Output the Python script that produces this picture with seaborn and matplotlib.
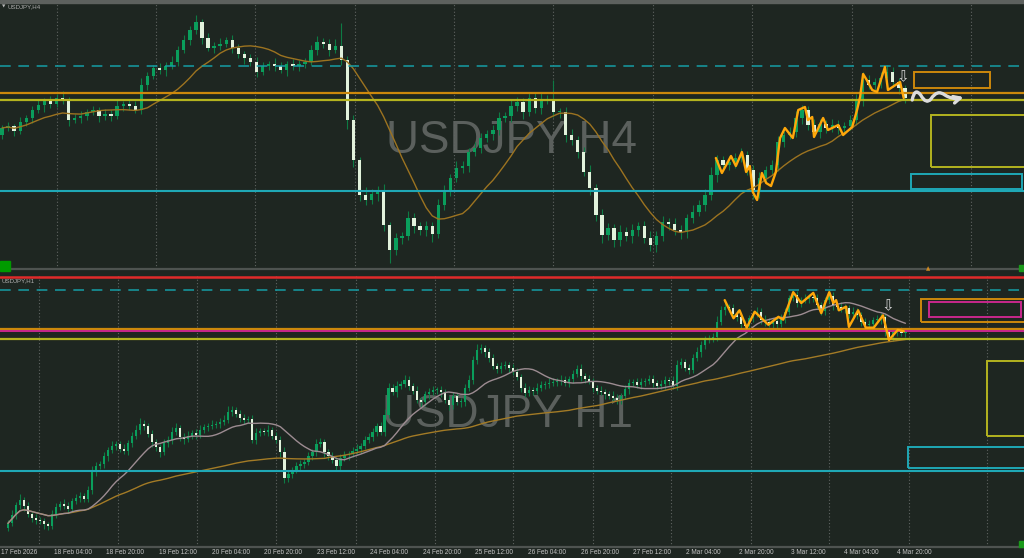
import numpy as np
import pandas as pd
import matplotlib
matplotlib.use("Agg")
import matplotlib.pyplot as plt
import matplotlib.transforms as mtransforms
import seaborn as sns
from matplotlib.patches import Rectangle, FancyArrowPatch
from matplotlib.path import Path

# ---------------- data: USDJPY H4 (top) ----------------
h4_first_open = 155.70
h4_close = [
    155.84, 155.88, 155.78, 155.96, 156.04, 156.20, 156.30, 156.38, 156.32, 156.44,
    156.40, 156.00, 156.04, 156.08, 156.16, 156.20, 156.08, 156.12, 156.08, 156.28,
    156.32, 156.28, 156.20, 156.70, 156.88, 157.04, 157.00, 157.08, 157.16, 157.40,
    157.60, 157.80, 157.96, 157.64, 157.44, 157.48, 157.52, 157.60, 157.44, 157.32,
    157.24, 157.16, 156.96, 157.08, 157.12, 157.08, 157.00, 157.12, 157.08, 157.12,
    157.16, 157.40, 157.56, 157.52, 157.40, 157.48, 157.20, 156.00, 155.20, 154.50,
    154.40, 154.52, 154.60, 153.90, 153.40, 153.64, 153.68, 154.04, 153.88, 153.80,
    153.88, 153.72, 154.30, 154.60, 154.84, 155.04, 155.08, 155.36, 155.44, 155.64,
    155.72, 155.80, 156.04, 156.08, 156.28, 156.36, 156.16, 156.44, 156.24, 156.40,
    156.40, 156.16, 156.16, 155.70, 155.60, 155.36, 154.96, 154.64, 154.10, 153.70,
    153.84, 153.60, 153.76, 153.68, 153.80, 153.88, 153.64, 153.50, 153.68, 153.96,
    153.92, 153.80, 153.76, 154.04, 154.16, 154.30, 154.50, 154.90, 155.20, 155.10,
    155.16, 155.24, 155.30, 155.00, 154.56, 154.84, 155.00, 155.10, 155.56, 155.70,
    155.76, 156.04, 156.20, 155.90, 155.76, 155.92, 155.84, 155.90, 155.84, 155.88,
    156.00, 156.40, 156.80, 156.70, 156.76, 156.84, 156.96, 156.76, 156.64, 156.44,
]
# wick lengths in 0.01 yen
h4_wick_up = [
    6, 8, 4, 10, 6, 8, 12, 6, 10, 8, 14, 6, 8, 10, 6, 8, 6, 10, 8, 12,
    6, 8, 10, 14, 8, 6, 10, 8, 12, 8, 10, 8, 14, 6, 10, 8, 12, 6, 10, 8,
    6, 8, 10, 8, 6, 12, 8, 6, 10, 8, 8, 10, 12, 8, 10, 14, 46, 8, 10, 6,
    16, 10, 8, 12, 6, 10, 8, 14, 10, 8, 10, 8, 12, 10, 8, 14, 10, 8, 12, 10,
    8, 10, 12, 8, 14, 10, 8, 12, 10, 14, 10, 40, 8, 10, 12, 8, 10, 14, 8, 12,
    10, 8, 14, 10, 12, 8, 10, 14, 10, 12, 8, 12, 10, 8, 14, 10, 12, 16, 10, 8,
    12, 10, 14, 8, 10, 12, 8, 10, 12, 8, 10, 14, 10, 8, 12, 10, 8, 12, 10, 8,
    10, 12, 16, 10, 8, 12, 14, 10, 8, 6,
]
h4_wick_dn = [
    8, 6, 10, 6, 8, 10, 6, 14, 8, 6, 8, 12, 6, 10, 8, 6, 12, 8, 10, 6,
    10, 8, 6, 8, 10, 6, 8, 12, 6, 8, 6, 10, 8, 12, 6, 10, 8, 6, 10, 8,
    12, 8, 10, 6, 8, 10, 6, 12, 8, 10, 8, 6, 10, 8, 12, 6, 10, 18, 14, 12,
    10, 8, 14, 12, 26, 10, 12, 8, 14, 10, 12, 16, 8, 10, 12, 8, 10, 12, 8, 10,
    8, 12, 10, 8, 12, 10, 14, 8, 10, 12, 8, 10, 12, 14, 10, 12, 8, 14, 12, 16,
    10, 14, 12, 10, 14, 12, 10, 12, 14, 10, 12, 10, 14, 12, 10, 8, 12, 10, 14, 8,
    10, 12, 8, 10, 14, 12, 10, 8, 12, 10, 8, 10, 12, 10, 8, 12, 10, 8, 12, 10,
    8, 10, 12, 8, 10, 12, 8, 10, 12, 10,
]
h4_zz_idx = [117.8, 118.8, 120.3, 121.1, 122.1, 122.8, 123.4, 123.9, 124.6, 125.4,
             126.1, 126.9, 127.7, 128.4, 129.2, 130.5, 131.4, 132.5, 133.0, 133.7,
             134.0, 135.5, 136.3, 138.0, 138.8, 140.3, 141.1, 141.6, 142.1, 142.7,
             143.6, 144.4, 145.7, 146.2, 148.2, 148.8]
h4_zz_price = [155.24, 154.94, 155.28, 155.08, 155.36, 154.96, 155.08, 154.56, 154.40, 154.94,
               154.74, 154.68, 154.96, 155.64, 155.84, 155.64, 156.20, 156.26, 156.00, 156.06,
               155.66, 156.04, 155.80, 155.90, 155.70, 155.86, 156.20, 156.46, 156.92, 156.80,
               156.60, 156.56, 157.06, 156.60, 156.76, 156.44]

# ---------------- data: USDJPY H1 (bottom) ----------------
h1_first_open = 153.80
h1_close = [
    153.86, 153.98, 154.11, 154.18, 154.10, 153.99, 153.93, 153.91, 153.89, 153.85,
    153.82, 153.99, 154.09, 154.13, 154.10, 154.06, 154.17, 154.21, 154.24, 154.20,
    154.32, 154.57, 154.65, 154.68, 154.79, 154.87, 154.93, 154.95, 154.89, 154.86,
    154.97, 155.07, 155.15, 155.23, 155.20, 155.09, 154.98, 154.91, 154.84, 154.97,
    155.01, 155.12, 155.18, 155.05, 155.02, 155.07, 155.11, 155.08, 155.15, 155.19,
    155.20, 155.22, 155.23, 155.26, 155.29, 155.40, 155.42, 155.37, 155.31, 155.29,
    155.30, 155.01, 155.11, 155.13, 155.12, 155.15, 155.07, 155.01, 154.84, 154.49,
    154.54, 154.60, 154.65, 154.68, 154.71, 154.79, 154.84, 154.95, 154.98, 154.84,
    154.79, 154.73, 154.65, 154.76, 154.80, 154.82, 154.86, 154.89, 154.93, 155.01,
    155.05, 155.12, 155.20, 155.12, 155.36, 155.73, 155.67, 155.76, 155.78, 155.84,
    155.76, 155.69, 155.56, 155.53, 155.64, 155.67, 155.70, 155.70, 155.67, 155.56,
    155.49, 155.62, 155.53, 155.53, 155.73, 155.84, 156.11, 156.25, 156.28, 156.22,
    156.14, 156.03, 155.99, 156.03, 156.05, 156.00, 155.95, 155.88, 155.73, 155.66,
    155.70, 155.69, 155.73, 155.77, 155.78, 155.80, 155.81, 155.82, 155.84, 155.80,
    155.85, 155.92, 155.99, 155.89, 155.85, 155.82, 155.73, 155.69, 155.67, 155.64,
    155.62, 155.59, 155.56, 155.62, 155.71, 155.80, 155.81, 155.77, 155.81, 155.82,
    155.85, 155.80, 155.76, 155.78, 155.84, 155.82, 155.76, 156.05, 156.09, 156.00,
    155.98, 156.14, 156.22, 156.32, 156.39, 156.42, 156.43, 156.64, 156.80, 156.85,
    156.83, 156.75, 156.71, 156.61, 156.58, 156.69, 156.75, 156.78, 156.67, 156.64,
    156.61, 156.65, 156.61, 156.69, 156.78, 156.97, 157.01, 156.90, 156.94, 156.96,
    156.98, 156.97, 156.87, 156.79, 156.94, 157.00, 156.87, 156.85, 156.82, 156.83,
    156.75, 156.78, 156.74, 156.64, 156.60, 156.61, 156.67, 156.67, 156.71, 156.50,
    156.43, 156.50, 156.51, 156.49, 156.50,
]
h1_wick_up = [
    4, 6, 5, 8, 4, 5, 3, 6, 4, 5, 3, 6, 5, 4, 7, 5, 4, 6, 5, 4,
    6, 8, 5, 4, 6, 5, 7, 4, 5, 6, 4, 5, 6, 8, 5, 4, 6, 5, 4, 6,
    5, 7, 6, 4, 5, 6, 4, 5, 7, 4, 5, 6, 4, 5, 6, 8, 6, 4, 5, 6,
    4, 5, 6, 4, 5, 6, 4, 5, 6, 7, 5, 4, 6, 5, 4, 6, 5, 7, 6, 4,
    5, 6, 4, 5, 6, 4, 5, 6, 4, 5, 6, 5, 4, 6, 8, 7, 5, 6, 4, 6,
    5, 4, 6, 5, 4, 6, 5, 4, 6, 5, 6, 5, 4, 6, 5, 7, 6, 8, 5, 4,
    6, 5, 4, 6, 5, 4, 6, 5, 4, 6, 5, 4, 6, 5, 4, 6, 5, 4, 6, 5,
    4, 6, 5, 7, 4, 6, 5, 4, 6, 5, 4, 6, 5, 4, 6, 5, 4, 6, 5, 4,
    6, 5, 4, 6, 5, 4, 7, 6, 5, 4, 6, 5, 7, 6, 5, 4, 6, 8, 6, 5,
    4, 6, 5, 4, 6, 5, 4, 6, 5, 7, 6, 5, 4, 6, 5, 4, 6, 5, 4, 6,
    5, 4, 6, 5, 4, 6, 5, 4, 6, 5, 4, 6, 5, 4, 6, 5, 4, 6, 5, 4,
    6, 5, 4, 6, 5,
]
h1_wick_dn = [
    5, 4, 6, 5, 7, 4, 5, 6, 4, 7, 5, 4, 6, 5, 4, 6, 5, 4, 6, 5,
    4, 5, 6, 4, 5, 7, 4, 6, 5, 4, 6, 5, 4, 6, 5, 4, 7, 5, 6, 4,
    5, 6, 4, 5, 6, 4, 5, 6, 4, 5, 6, 4, 5, 6, 4, 5, 6, 4, 5, 6,
    5, 4, 6, 5, 4, 6, 5, 4, 6, 8, 6, 5, 4, 6, 5, 4, 6, 5, 4, 6,
    5, 4, 6, 5, 4, 6, 5, 4, 6, 5, 4, 6, 5, 4, 6, 5, 4, 6, 5, 4,
    6, 5, 4, 7, 5, 6, 4, 5, 6, 4, 7, 5, 4, 6, 5, 4, 6, 5, 4, 6,
    5, 4, 6, 5, 4, 6, 5, 4, 6, 5, 4, 6, 5, 4, 6, 5, 4, 6, 5, 4,
    6, 5, 4, 6, 5, 4, 6, 5, 4, 6, 5, 4, 6, 5, 4, 6, 5, 4, 6, 5,
    4, 6, 5, 4, 6, 5, 4, 6, 5, 4, 6, 5, 4, 6, 5, 4, 6, 5, 4, 6,
    5, 4, 6, 5, 4, 6, 5, 4, 6, 5, 4, 6, 5, 4, 6, 5, 4, 6, 5, 4,
    6, 5, 4, 6, 5, 4, 6, 5, 4, 6, 5, 4, 6, 5, 4, 6, 5, 4, 6, 5,
    4, 6, 5, 4, 6,
]
h1_zz_idx = [178.9, 181.1, 182.6, 184.4, 186.4, 189.8, 192.3, 193.5, 196.0, 198.0,
             201.0, 203.0, 205.0, 206.0, 206.7, 207.4, 209.2, 209.9, 212.2, 214.1,
             216.1, 218.4, 219.9, 222.1, 223.6]
h1_zz_price = [156.94, 156.69, 156.80, 156.56, 156.78, 156.60, 156.71, 156.67, 157.05, 156.90,
               157.04, 156.76, 157.05, 156.90, 156.94, 156.80, 156.85, 156.57, 156.80, 156.56,
               156.56, 156.73, 156.39, 156.53, 156.51]

h1_tick_labels = ["17 Feb 2026", "18 Feb 04:00", "18 Feb 20:00", "19 Feb 12:00",
                  "20 Feb 04:00", "20 Feb 20:00", "23 Feb 12:00", "24 Feb 04:00",
                  "24 Feb 20:00", "25 Feb 12:00", "26 Feb 04:00", "26 Feb 20:00",
                  "27 Feb 12:00", "2 Mar 04:00", "2 Mar 20:00", "3 Mar 12:00",
                  "4 Mar 04:00", "4 Mar 20:00"]

# price levels shared by both charts
lvl_dash_cyan = 157.08
lvl_orange = 156.54
lvl_yellow = 156.40
lvl_cyan = 154.58
lvl_red = 157.26
lvl_magenta = 156.52
# zones: (low, high)
zone_orange = (156.64, 156.96)
zone_magenta = (156.71, 156.91)
zone_yellow = (155.07, 156.10)
zone_cyan = (154.62, 154.92)
arrow_price = 156.86

# ---------------- style ----------------
BG = "#1e2621"
BULL = "#0a9e5c"
BEAR = "#e2f2dc"
WICK = "#0d7a44"
GRID = "#5f6461"
ORANGE = "#cc880c"
YELLOW = "#b4b31f"
CYAN = "#1fa8b6"
DCYAN = "#169ea6"
RED = "#e02a2a"
MAGENTA = "#c8288c"
ZZ = "#ffa70a"

sns.set_theme(style="dark")
plt.rcParams["font.family"] = ["Liberation Sans", "DejaVu Sans"]

fig = plt.figure(figsize=(10.24, 5.58), dpi=100, facecolor=BG)
ax4 = fig.add_axes([0, 1 - 269 / 558, 1, 266 / 558])
ax1 = fig.add_axes([0, 1 - 547 / 558, 1, 272 / 558])


def draw_candles(ax, first_open, closes, wu, wd, width):
    c = np.array(closes)
    o = np.r_[first_open, c[:-1]]
    x = np.arange(len(c))
    up = c >= o
    top = np.maximum(o, c)
    bot = np.minimum(o, c)
    hi = top + np.array(wu) / 100
    lo = bot - np.array(wd) / 100
    ax.vlines(x, lo, hi, color=WICK, lw=0.8, zorder=3)
    h = np.maximum(top - bot, 0.012)
    ax.bar(x[up], h[up], bottom=bot[up], width=width, color=BULL, linewidth=0, zorder=4)
    ax.bar(x[~up], h[~up], bottom=bot[~up], width=width, color=BEAR, linewidth=0, zorder=4)
    return x, c


def base_axes(ax, xlim, ylim, grid_idx):
    ax.set_facecolor(BG)
    ax.set_xlim(*xlim)
    ax.set_ylim(*ylim)
    ax.set_yticks([])
    for s in ["top", "left", "right"]:
        ax.spines[s].set_visible(False)
    ax.spines["bottom"].set_color("#4e5350")
    ax.spines["bottom"].set_linewidth(1.6)
    for g in grid_idx:
        ax.axvline(g, color=GRID, lw=0.8, ls=(0, (1, 2)), zorder=1)
    ax.tick_params(axis="x", direction="out", length=2.5, width=0.8, color="#6a6e6b",
                   labelbottom=False)


def zone(ax, x0, x1, z, color, lw=1.4):
    ax.add_patch(Rectangle((x0, z[0]), x1 - x0, z[1] - z[0], fill=False,
                           edgecolor=color, lw=lw, zorder=6))


# ---------------- top: H4 ----------------
base_axes(ax4, (-0.33, 168.65), (153.02, 158.34),
          [9.1, 25.4, 41.7, 58.3, 74.6, 90.9, 107.4, 123.8, 140.3, 159.9])
ax4.set_xticks([(53 * k - 2) / 6.06 for k in range(1, 20)])

ax4.text(0.5, 0.436, "USDJPY H4", transform=ax4.transAxes, ha="center", va="baseline",
         fontsize=33, color="#5b605d", zorder=0.5)

x4, c4 = draw_candles(ax4, h4_first_open, h4_close, h4_wick_up, h4_wick_dn, 0.55)
ma4 = pd.Series(c4).rolling(14, min_periods=1).mean()
sns.lineplot(x=x4, y=ma4.values, ax=ax4, color="#9c7320", lw=1.0, zorder=5, legend=False)

ax4.axhline(lvl_dash_cyan, color=DCYAN, lw=1.1, ls=(0, (7, 5)), zorder=5)
ax4.axhline(lvl_orange, color=ORANGE, lw=1.6, zorder=5)
ax4.axhline(lvl_yellow, color=YELLOW, lw=1.6, zorder=5)
ax4.axhline(lvl_cyan, color=CYAN, lw=1.5, zorder=5)

sns.lineplot(x=h4_zz_idx, y=h4_zz_price, ax=ax4, color=ZZ, lw=1.7, zorder=7,
             sort=False, legend=False)

zone(ax4, 150.5, 163.0, zone_orange, ORANGE)
zone(ax4, 153.3, 172.0, zone_yellow, YELLOW)
zone(ax4, 150.0, 168.4, zone_cyan, CYAN)

ax4.text(148.7, arrow_price, "\u21e9", ha="center", va="center", fontsize=11,
         color="#d4d4d4", family=["DejaVu Sans"], zorder=8)
# wavy arrow
wv = [(150.2, 156.40), (150.6, 156.66), (151.6, 156.50), (152.5, 156.30), (153.3, 156.42),
      (154.3, 156.62), (155.6, 156.50), (156.9, 156.40), (158.7, 156.46)]
codes = [Path.MOVETO] + [Path.CURVE3] * 8
ax4.add_patch(FancyArrowPatch(path=Path(wv, codes), arrowstyle="->", mutation_scale=12,
                              lw=2.4, color="#dcdcdc", zorder=8))

# ---------------- bottom: H1 ----------------
base_axes(ax1, (-0.5, 253.6), (153.533, 157.287),
          [7.7, 27.5, 47.1, 67.0, 86.9, 106.5, 126.0, 145.9, 165.5, 185.4, 205.0, 224.8, 244.4])
h1_tick_pos = [(53 * k - 6 - 2) / 4.03 for k in range(len(h1_tick_labels))]
ax1.set_xticks(h1_tick_pos)
tb = mtransforms.blended_transform_factory(ax1.transData, ax1.transAxes)
for p, lab in zip(h1_tick_pos, h1_tick_labels):
    ax1.text(p + 0.25, -0.022, lab, transform=tb, ha="left", va="center", fontsize=4.7,
             color="#c4c4c4", clip_on=False)

ax1.text(0.4956, 0.441, "USDJPY H1", transform=ax1.transAxes, ha="center", va="baseline",
         fontsize=33, color="#5b605d", zorder=0.5)

x1, c1 = draw_candles(ax1, h1_first_open, h1_close, h1_wick_up, h1_wick_dn, 0.55)
fast = pd.Series(c1).rolling(16, min_periods=1).mean()
slow = pd.Series(c1).rolling(80, min_periods=1).mean()
sns.lineplot(x=x1, y=slow.values, ax=ax1, color="#a37b26", lw=1.0, zorder=5, legend=False)
sns.lineplot(x=x1, y=fast.values, ax=ax1, color="#9d8c92", lw=1.0, zorder=5, legend=False)

ax1.axhline(lvl_red, color=RED, lw=1.8, zorder=5)
ax1.axhline(lvl_dash_cyan, color=DCYAN, lw=1.1, ls=(0, (7, 5)), zorder=5)
ax1.axhline(lvl_orange, color=ORANGE, lw=1.6, zorder=5)
ax1.axhline(lvl_magenta, color=MAGENTA, lw=1.4, zorder=5)
ax1.axhline(lvl_yellow, color=YELLOW, lw=1.6, zorder=5)
ax1.axhline(lvl_cyan, color=CYAN, lw=1.5, zorder=5)

sns.lineplot(x=h1_zz_idx, y=h1_zz_price, ax=ax1, color=ZZ, lw=1.7, zorder=7,
             sort=False, legend=False)

zone(ax1, 228.0, 258.0, zone_orange, ORANGE)
zone(ax1, 229.8, 252.9, zone_magenta, MAGENTA)
zone(ax1, 244.4, 258.0, zone_yellow, YELLOW)
zone(ax1, 224.6, 258.0, zone_cyan, CYAN)

ax1.text(219.6, arrow_price, "\u21e9", ha="center", va="center", fontsize=11,
         color="#d4d4d4", family=["DejaVu Sans"], zorder=8)

# ---------------- chrome ----------------
ft = fig.transFigure
fig.patches.append(Rectangle((0, 1 - 3 / 558), 1, 3 / 558, transform=ft, color="#5d615e"))
fig.patches.append(Rectangle((0, 1 - 271 / 558), 10 / 1024, 10 / 558, transform=ft,
                             color="#009a00", zorder=10))
fig.patches.append(Rectangle((1019 / 1024, 1 - 271 / 558), 5 / 1024, 6 / 558, transform=ft,
                             color="#1a9a1a", zorder=10))
fig.patches.append(Rectangle((1019 / 1024, 1 - 547 / 558), 5 / 1024, 6 / 558, transform=ft,
                             color="#1a9a1a", zorder=10))
fig.text(2 / 1024, 1 - 7 / 558, "\u25bc", fontsize=3.2, color="#b8b8b8", va="center",
         family=["DejaVu Sans"])
fig.text(8 / 1024, 1 - 7 / 558, "USDJPY,H4", fontsize=4.4, color="#b0b0b0", va="center")
fig.text(2 / 1024, 1 - 281 / 558, "USDJPY,H1", fontsize=4.4, color="#b0b0b0", va="center")
fig.text(928 / 1024, 1 - 269 / 558, "\u25b2", fontsize=4, color="#d08a20", ha="center",
         va="center", family=["DejaVu Sans"])

fig.savefig("out.png", dpi=100, facecolor=BG)
